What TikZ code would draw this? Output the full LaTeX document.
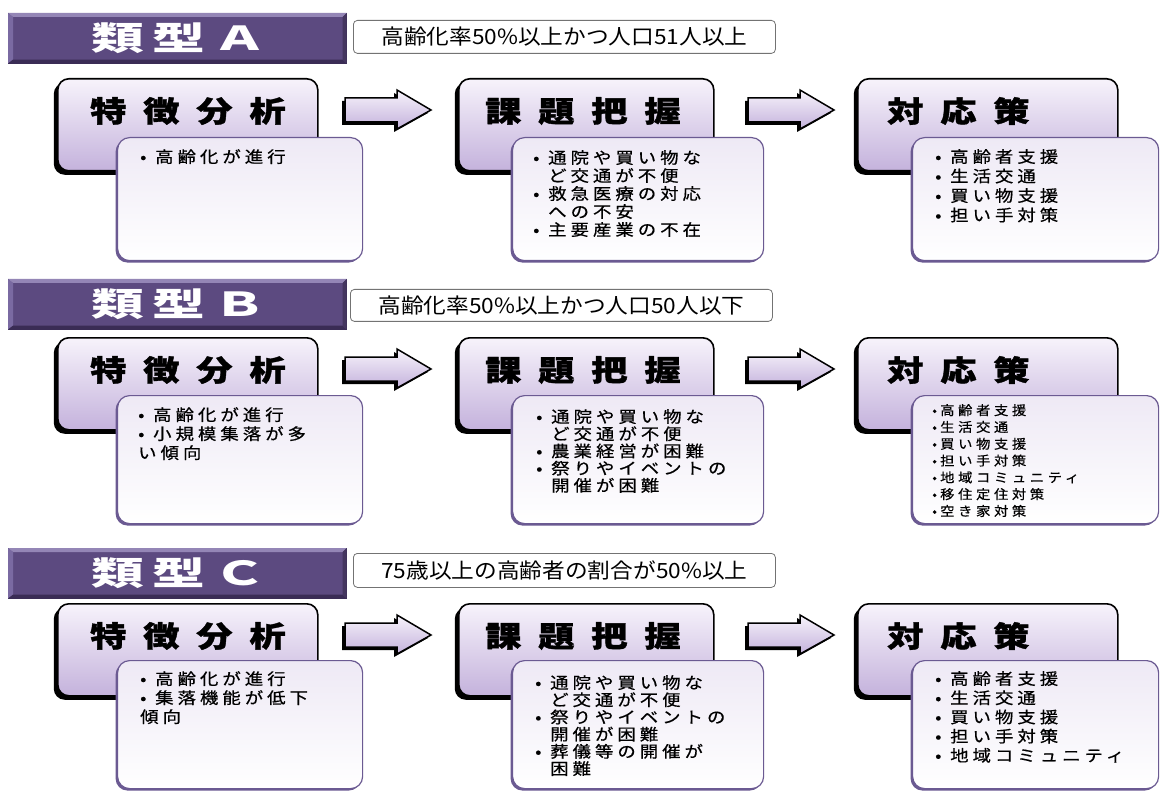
\documentclass[tikz,border=0pt]{standalone}
\usepackage{fontspec}
\setmainfont{Noto Sans CJK JP}
\newfontfamily\hdfont{Noto Sans CJK JP}[LetterSpace=58, FakeStretch=1.25, BoldFeatures={FakeBold=1.2}]
\newfontfamily\barfont{Noto Sans CJK JP}[LetterSpace=25, FakeStretch=1.6]
\newfontfamily\ctfont{Noto Sans CJK JP}[LetterSpace=25, FakeStretch=1.15, FakeBold=0.6]
\newfontfamily\smfont{Noto Sans CJK JP}[LetterSpace=28, FakeStretch=1.1, FakeBold=0.5]
\newfontfamily\cdfont{Noto Sans CJK JP}[FakeStretch=1.08]
\usetikzlibrary{shadows}
\definecolor{barc}{HTML}{5C4A80}
\definecolor{bardark}{HTML}{3A2C55}
\definecolor{bardarkr}{HTML}{44365F}
\definecolor{barlight}{HTML}{9486B6}
\definecolor{barmid}{HTML}{7A6AA2}
\definecolor{hdtop}{HTML}{F7F3FB}
\definecolor{hdbot}{HTML}{C4B2DC}
\definecolor{ctborder}{HTML}{6B5A92}
\definecolor{cttop}{HTML}{EEE9F5}
\newcommand\bu{\makebox[15pt][l]{•}}
\newcommand\bs{\makebox[8pt][l]{•}}
\newcommand\hg{\hspace*{15pt}}
\tikzset{
  typebar/.style={fill=barc, draw=bardark, line width=0.6pt, minimum width=338pt, minimum height=50pt, anchor=north west, inner sep=0pt},
  bartext/.style={text=white, font=\barfont\bfseries\fontsize{33}{36}\selectfont, inner sep=0pt},
  condbox/.style={draw=black!55, line width=0.8pt, rounded corners=4pt, fill=white, anchor=north west, minimum width=422pt, inner sep=0pt, font=\cdfont\fontsize{21}{24}\selectfont},
  hdbox/.style={rounded corners=11pt, draw=black, line width=1.6pt, top color=hdtop, bottom color=hdbot,
    drop shadow={shadow xshift=-4pt, shadow yshift=-4pt, fill=black, opacity=1},
    minimum width=260pt, minimum height=92pt, anchor=north west, inner sep=0pt},
  ctbox/.style={rounded corners=12pt, draw=ctborder, line width=1.2pt, top color=cttop, middle color=white, bottom color=white,
    drop shadow={shadow xshift=-2pt, shadow yshift=-2pt, fill=ctborder, opacity=1},
    anchor=north west, inner sep=0pt},
  hdtext/.style={font=\hdfont\bfseries\fontsize{29}{32}\selectfont, anchor=west, inner sep=0pt},
  cttext/.style={font=\ctfont\fontsize{16}{18}\selectfont, align=left, anchor=north west, inner sep=0pt},
  smtext/.style={font=\smfont\fontsize{13}{16.8}\selectfont, align=left, anchor=north west, inner sep=0pt},
  blockarrow/.pic={
    \path[fill=black, shift={(-3pt,-3pt)}] (0,-12) -- (52,-12) -- (52,-20) -- (86,0) -- (52,19) -- (52,12) -- (0,12) -- cycle;
    \path[draw=black, line width=1.5pt, top color=hdtop, bottom color=hdbot] (0,-12) -- (52,-12) -- (52,-20) -- (86,0) -- (52,19) -- (52,12) -- (0,12) -- cycle;
  }
}
\newcommand\typebar[3]{%
  \node[typebar] (#1) at (8,#2) {};
  \fill[barlight] (#1.north west) -- (#1.north east) -- ([xshift=-4pt,yshift=-4pt]#1.north east) -- ([xshift=5pt,yshift=-4pt]#1.north west) -- cycle;
  \fill[barmid] (#1.north west) -- ([xshift=5pt,yshift=-4pt]#1.north west) -- ([xshift=5pt,yshift=4pt]#1.south west) -- (#1.south west) -- cycle;
  \fill[bardark] (#1.south west) -- ([xshift=5pt,yshift=4pt]#1.south west) -- ([xshift=-4pt,yshift=4pt]#1.south east) -- (#1.south east) -- cycle;
  \fill[bardarkr] (#1.north east) -- (#1.south east) -- ([xshift=-4pt,yshift=4pt]#1.south east) -- ([xshift=-4pt,yshift=-4pt]#1.north east) -- cycle;
  \node[bartext] (#1t) at ([xshift=2pt]#1.center) {#3};
}
\newcommand\mkrow[4]{%
  \node[hdbox] (h#1a) at (57,#2) {};
  \node[hdbox, minimum width=255pt] (h#1b) at (458,#2) {};
  \node[hdbox] (h#1c) at (857,#2) {};
  \node[hdtext] (t#1a) at (90,{#2+33}) {特徴分析};
  \node[hdtext] (t#1b) at (485,{#2+33}) {課題把握};
  \node[hdtext] (t#1c) at (887,{#2+33}) {対応策};
  \pic (ar#1a) at (345,{#2+32}) {blockarrow};
  \pic (ar#1b) at (748,{#2+32}) {blockarrow};
  \node[ctbox, minimum width=245pt, minimum height=#4pt] (c#1a) at (117,#3) {};
  \node[ctbox, minimum width=251pt, minimum height=#4pt] (c#1b) at (512,#3) {};
  \node[ctbox, minimum width=246pt, minimum height=#4pt] (c#1c) at (912,#3) {};
}
\begin{document}
\begin{tikzpicture}[x=1pt,y=-1pt]
\useasboundingbox (0,0) rectangle (1161,791);
\fill[white] (0,0) rectangle (1161,791);

% ---------- Type A ----------
\typebar{barA}{13}{類型Ａ}
\node[condbox, minimum height=33pt] (condA) at (353,20) {高齢化率50\%以上かつ人口51人以上};
\mkrow{A}{78}{137}{123}
\node[cttext] (xAa) at (140,149) {\bu 高齢化が進行};
\node[cttext] (xAb) at (533,150) {\bu 通院や買い物な\\\hg ど交通が不便\\\bu 救急医療の対応\\\hg への不安\\\bu 主要産業の不在};
\node[cttext, font=\ctfont\fontsize{16}{19.5}\selectfont] (xAc) at (935,149) {\bu 高齢者支援\\\bu 生活交通\\\bu 買い物支援\\\bu 担い手対策};

% ---------- Type B ----------
\typebar{barB}{279}{類型Ｂ}
\node[condbox, minimum height=32pt] (condB) at (350,289) {高齢化率50\%以上かつ人口50人以下};
\mkrow{B}{337}{395}{128}
\node[cttext, font=\ctfont\fontsize{16}{19}\selectfont] (xBa) at (138,407) {\bu 高齢化が進行\\\bu 小規模集落が多\\い傾向};
\node[cttext, font=\ctfont\fontsize{16}{17.2}\selectfont] (xBb) at (536,409) {\bu 通院や買い物な\\\hg ど交通が不便\\\bu 農業経営が困難\\\bu 祭りやイベントの\\\hg 開催が困難};
\node[smtext] (xBc) at (932,404) {\bs 高齢者支援\\\bs 生活交通\\\bs 買い物支援\\\bs 担い手対策\\\bs 地域コミュニティ\\\bs 移住定住対策\\\bs 空き家対策};

% ---------- Type C ----------
\typebar{barC}{548}{類型Ｃ}
\node[condbox, minimum height=34pt] (condC) at (353,553) {75歳以上の高齢者の割合が50\%以上};
\mkrow{C}{603}{660}{128}
\node[cttext, font=\ctfont\fontsize{16}{19}\selectfont] (xCa) at (140,671) {\bu 高齢化が進行\\\bu 集落機能が低下\\傾向};
\node[cttext, font=\ctfont\fontsize{16}{17.2}\selectfont] (xCb) at (535,675) {\bu 通院や買い物な\\\hg ど交通が不便\\\bu 祭りやイベントの\\\hg 開催が困難\\\bu 葬儀等の開催が\\\hg 困難};
\node[cttext, font=\ctfont\fontsize{16}{19.2}\selectfont] (xCc) at (935,671) {\bu 高齢者支援\\\bu 生活交通\\\bu 買い物支援\\\bu 担い手対策\\\bu 地域コミュニティ};
\end{tikzpicture}
\end{document}
